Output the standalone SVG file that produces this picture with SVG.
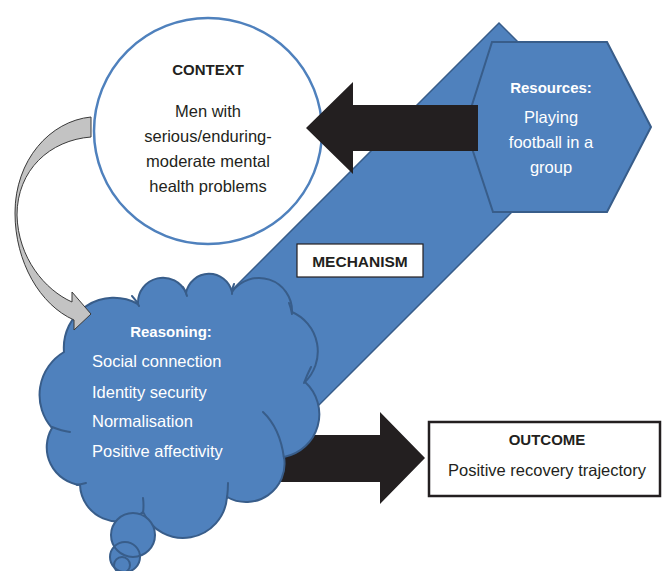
<svg xmlns="http://www.w3.org/2000/svg" width="662" height="571" viewBox="0 0 662 571">
<style>
text{font-family:"Liberation Sans",Arial,sans-serif;font-size:16.5px}
.b{font-weight:bold;font-size:15px}
.w{fill:#ffffff}
.k{fill:#231f20}
.blue{fill:#4f81bd;stroke:#385d8a;stroke-width:2}
.blk{fill:#231f20}
.ln{fill:none;stroke:#385d8a;stroke-width:2;stroke-linecap:round}
</style>
<rect width="662" height="571" fill="#ffffff"/>
<g id="connectors">
<path id="mechanism-band" d="M499 23 L600 124 L300 424 L200 322 Z" fill="#4f81bd" stroke="#385d8a" stroke-width="1.5"/>
<path id="arrow-outcome" class="blk" d="M260 435 L380 435 L380 412 L425 458 L380 504 L380 482 L260 482 Z"/>
</g>
<g id="resources">
<path class="blue" d="M492 42 L607 42 L651 127 L607 212 L493 212 L465 127 Z"/>
<text class="b w" x="551" y="93" text-anchor="middle">Resources:</text>
<text class="w" x="551" y="123" text-anchor="middle">Playing</text>
<text class="w" x="551" y="148" text-anchor="middle">football in a</text>
<text class="w" x="551" y="173" text-anchor="middle">group</text>
</g>
<g id="context">
<ellipse cx="208" cy="131" rx="114" ry="113" fill="#ffffff" stroke="#4f81bd" stroke-width="2.5"/>
<text class="b k" x="208" y="75" text-anchor="middle">CONTEXT</text>
<text class="k" x="208" y="117" text-anchor="middle">Men with</text>
<text class="k" x="208" y="142" text-anchor="middle">serious/enduring-</text>
<text class="k" x="208" y="167" text-anchor="middle">moderate mental</text>
<text class="k" x="208" y="192" text-anchor="middle">health problems</text>
</g>
<g id="arrow-resources-context">
<path class="blk" d="M478 105 L353 105 L353 82 L306 128 L353 174 L353 151 L478 151 Z"/>
</g>
<g id="mechanism">
<rect x="297" y="244" width="126" height="33" fill="#ffffff" stroke="#231f20" stroke-width="1.2"/>
<text class="b k" x="360" y="267" text-anchor="middle" style="font-size:15.5px">MECHANISM</text>
</g>
<g id="reasoning">
<path d="M64 352 A50 50 0 0 1 138 304 A25 25 0 0 1 186 293 A23.5 23.5 0 0 1 232 292 A33 33 0 0 1 292 312 A43 43 0 0 1 305 382 A43.5 43.5 0 0 1 284 457 A38.5 38.5 0 0 1 227 497 A44 44 0 0 1 143 512 A38 38 0 0 1 80 485 A38 38 0 0 1 52 428 A50 50 0 0 1 64 352 Z" class="blue"/>
<circle cx="133" cy="535" r="22" fill="#4f81bd"/>
<circle cx="125" cy="557" r="15" fill="#4f81bd"/>
<circle cx="122" cy="565" r="8" fill="#4f81bd"/>
<circle cx="133" cy="535" r="22" class="ln"/>
<circle cx="125" cy="557" r="15" class="ln"/>
<circle cx="122" cy="565" r="8" class="ln"/>
<path class="ln" d="M132 296 Q136 300 139 306 M183 287 Q186 291 187 296 M234 284 Q232 288 232 294 M289 303 Q291 308 292 314 M311 367 Q307 375 304 383 M263 412 Q280 428 284 458 M228 483 Q228 490 227 498 M143 498 Q144 505 143 513 M77 485 Q82 484 86 483 M52 427 Q62 431 70 432"/>
<text class="b w" x="171" y="337" text-anchor="middle">Reasoning:</text>
<text class="w" x="92" y="367">Social connection</text>
<text class="w" x="92" y="398">Identity security</text>
<text class="w" x="92" y="427">Normalisation</text>
<text class="w" x="92" y="457">Positive affectivity</text>
</g>
<g id="connectors-top">
<path id="arrow-curved" d="M91 117 C50 121 15 160 15 213 C15 262 40 305 74 320 L74 330 L91 314 L72 292 L72 302 C45 290 18 258 17 215 C17 170 50 140 91 137 Z" fill="#c3c3c3" stroke="#3a3a3a" stroke-width="1"/>
</g>
<g id="outcome">
<rect x="429" y="422" width="231" height="74" fill="#ffffff" stroke="#231f20" stroke-width="2.5"/>
<text class="b k" x="547" y="445" text-anchor="middle">OUTCOME</text>
<text class="k" x="547" y="476" text-anchor="middle">Positive recovery trajectory</text>
</g>
</svg>
